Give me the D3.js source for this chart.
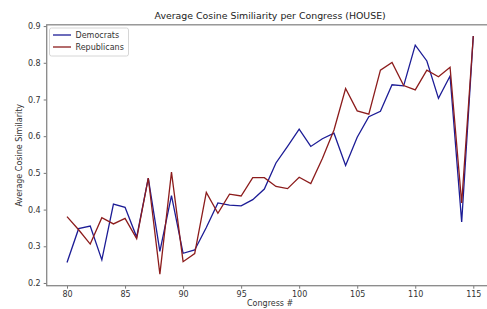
<!DOCTYPE html>
<html>
<head>
<meta charset="utf-8">
<title>Average Cosine Similiarity per Congress (HOUSE)</title>
<script src="https://d3js.org/d3.v7.min.js"></script>
<style>
  body { margin: 0; background: #fff; }
  text { font-family: "DejaVu Sans", sans-serif; }
</style>
</head>
<body>
<svg id="chart"></svg>
<script>
// congress numbers
var congress = d3.range(80, 116);

var democrats = [0.256, 0.348, 0.355, 0.263, 0.415, 0.406, 0.325, 0.486, 0.286, 0.438,
                 0.281, 0.290, 0.351, 0.418, 0.412, 0.410, 0.427, 0.456, 0.527, 0.572,
                 0.619, 0.572, 0.593, 0.608, 0.520, 0.597, 0.653, 0.668, 0.740, 0.737,
                 0.848, 0.805, 0.703, 0.764, 0.366, 0.873];

var republicans = [0.381, 0.345, 0.306, 0.378, 0.361, 0.376, 0.321, 0.486, 0.224, 0.502,
                   0.258, 0.280, 0.447, 0.390, 0.442, 0.437, 0.487, 0.487, 0.463, 0.457,
                   0.488, 0.471, 0.539, 0.617, 0.730, 0.669, 0.660, 0.780, 0.801, 0.738,
                   0.726, 0.780, 0.762, 0.788, 0.418, 0.873];

var xTicks = [80, 85, 90, 95, 100, 105, 110, 115];
var yTicks = [0.2, 0.3, 0.4, 0.5, 0.6, 0.7, 0.8, 0.9];

var seriesNames = ["Democrats", "Republicans"];
var seriesColors = ["#1c1c96", "#8c1c1c"];

var width = 487, height = 309;
// plot area (right edge falls outside the picture, as in the reference)
var plotLeft = 46.7, plotRight = 493.6, plotTop = 24.8, plotBottom = 285.7;

var svg = d3.select("#chart").attr("width", width).attr("height", height);

var x = d3.scaleLinear().domain([78.25, 116.75]).range([plotLeft, plotRight]);
var y = d3.scaleLinear().domain([0.1926, 0.9035]).range([plotBottom, plotTop]);

// title
svg.append("text")
    .attr("x", (plotLeft + plotRight) / 2)
    .attr("y", 19)
    .attr("text-anchor", "middle")
    .attr("font-size", 9.4)
    .attr("fill", "#222")
    .text("Average Cosine Similiarity per Congress (HOUSE)");

// lines
var line = d3.line()
    .x(function (d, i) { return x(congress[i]); })
    .y(function (d) { return y(d); });

[democrats, republicans].forEach(function (vals, k) {
    svg.append("path")
        .datum(vals)
        .attr("fill", "none")
        .attr("stroke", seriesColors[k])
        .attr("stroke-width", 1.3)
        .attr("stroke-linejoin", "miter")
        .attr("d", line);
});

// axes
var xAxis = svg.append("g")
    .attr("transform", "translate(0," + plotBottom + ")")
    .call(d3.axisBottom(x).tickValues(xTicks).tickSize(3).tickPadding(3).tickFormat(d3.format("d")));
var yAxis = svg.append("g")
    .attr("transform", "translate(" + plotLeft + ",0)")
    .call(d3.axisLeft(y).tickValues(yTicks).tickSize(3).tickPadding(3).tickFormat(d3.format(".1f")));

[xAxis, yAxis].forEach(function (g) {
    g.select(".domain").remove();
    g.selectAll("line").attr("stroke", "#555").attr("stroke-width", 0.8);
    g.selectAll("text").attr("font-size", 8).attr("fill", "#333")
        .style("font-family", "DejaVu Sans, sans-serif");
});

// frame
svg.append("rect")
    .attr("x", plotLeft).attr("y", plotTop)
    .attr("width", plotRight - plotLeft).attr("height", plotBottom - plotTop)
    .attr("fill", "none")
    .attr("stroke", "#888")
    .attr("stroke-width", 1.3);

// axis labels
svg.append("text")
    .attr("x", (plotLeft + plotRight) / 2)
    .attr("y", 306)
    .attr("text-anchor", "middle")
    .attr("font-size", 8)
    .attr("fill", "#333")
    .text("Congress #");

svg.append("text")
    .attr("transform", "translate(22," + ((plotTop + plotBottom) / 2) + ") rotate(-90)")
    .attr("text-anchor", "middle")
    .attr("font-size", 8)
    .attr("fill", "#333")
    .text("Average Cosine Similarity");

// legend
var legend = svg.append("g").attr("transform", "translate(49.5,28)");
legend.append("rect")
    .attr("width", 79).attr("height", 28).attr("rx", 2)
    .attr("fill", "#fff").attr("stroke", "#ccc").attr("stroke-width", 0.8);
seriesNames.forEach(function (name, i) {
    var yy = 7 + i * 12;
    legend.append("line")
        .attr("x1", 3.5).attr("x2", 21.5).attr("y1", yy).attr("y2", yy)
        .attr("stroke", seriesColors[i]).attr("stroke-width", 1.3);
    legend.append("text")
        .attr("x", 26).attr("y", yy + 3)
        .attr("font-size", 8).attr("fill", "#333")
        .text(name);
});
</script>
</body>
</html>
